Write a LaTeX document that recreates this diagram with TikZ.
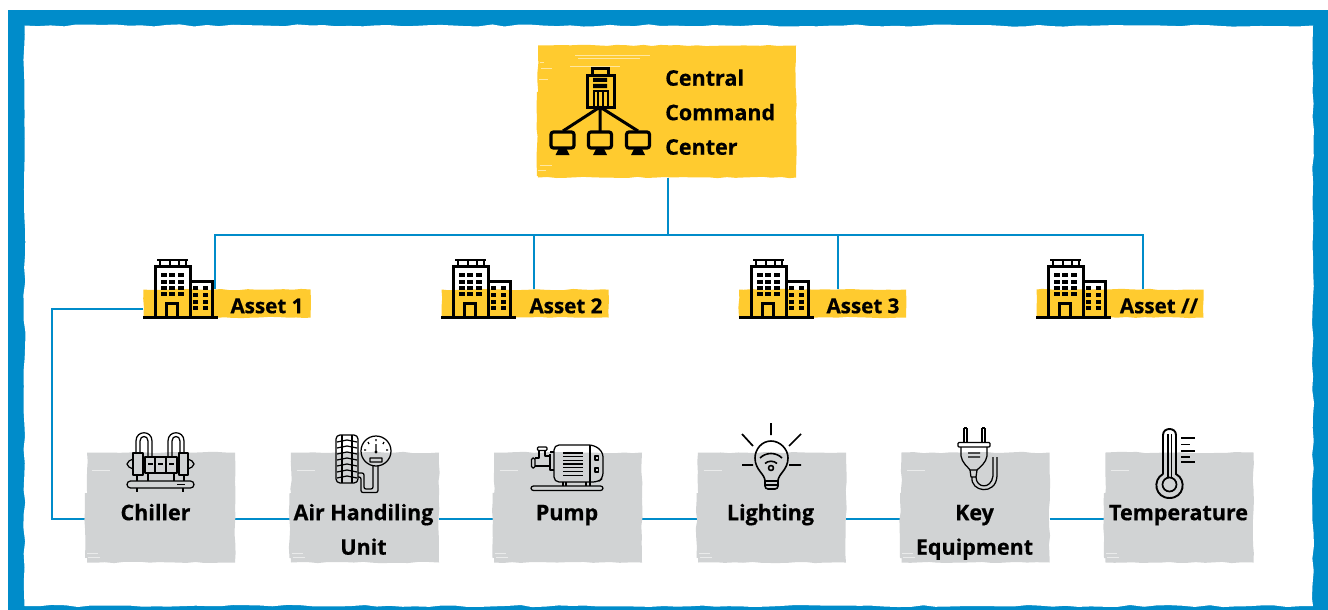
\documentclass[tikz,border=0pt]{standalone}
\usepackage{fontspec}
\setmainfont{Open Sans}[BoldFeatures={FakeBold=0.5}]
\usetikzlibrary{decorations.pathmorphing}
\definecolor{bluec}{HTML}{008CCA}
\definecolor{yellowc}{HTML}{FFCB2F}
\definecolor{greyc}{HTML}{D1D3D4}
\pgfdeclarelayer{framelayer}
\pgfdeclarelayer{connlayer}
\pgfsetlayers{framelayer,connlayer,main}
\newcommand{\lab}[4]{\node[lbl,#1] at (#2,#3-21) {\rule{0pt}{21pt}#4};}
\tikzset{
  rough/.style={decorate,decoration={random steps,segment length=9pt,amplitude=.7pt}},
  lbl/.style={anchor=north,inner sep=0pt,align=center,font=\fontsize{21.5}{34.5}\selectfont\bfseries,text=black},
  assetlbl/.style={font=\fontsize{20.6}{30}\selectfont\bfseries},
  cmdbox/.style={fill=yellowc,rough,inner sep=0pt,minimum width=258pt,minimum height=132pt},
  bandbox/.style={fill=yellowc,rough,inner sep=0pt,minimum width=167pt,minimum height=28pt},
  greybox/.style={fill=greyc,rough,inner sep=0pt,minimum width=148pt,minimum height=110pt},
  conn/.style={draw=bluec,line width=1.9pt},
  icon/.style={draw=black,line width=1.25pt,line join=round},
  iconb/.style={draw=black,line width=3pt,line join=miter},
  scratch/.style={draw=white,line width=.5pt,opacity=.55},
  pics/bldg/.style={code={
    \draw[iconb] (143,317.5) -- (218,317.5);
    \draw[iconb] (155,317) -- (155,266) -- (190,266) -- (190,317);
    \draw[iconb] (190,281.5) -- (212,281.5) -- (212,317);
    \draw[draw=black,line width=2.6pt] (157,260) -- (188,260);
    \draw[draw=black,line width=1.8pt] (160,260) -- (160,266) (170,260) -- (170,266) (179,260) -- (179,266) (186,260) -- (186,266);
    \draw[iconb] (166,317) -- (166,303) -- (177.5,303) -- (177.5,317);
    \foreach \yy in {275,282,288,294}{\foreach \xx in {161,169,178}{\fill (\xx,\yy-1.6) rectangle (\xx+5.5,\yy+1.6);}}
    \foreach \yy in {288,295,302,308}{\foreach \xx in {193,202.5}{\fill (\xx,\yy-1.6) rectangle (\xx+5,\yy+1.6);}}
  }},
  pics/mon/.style={code={
    \draw[draw=black,line width=3.2pt,rounded corners=2.5pt] (551.5,132) rectangle (574.5,148);
    \fill (559,149) -- (567,149) -- (569,153) -- (570,155) -- (556,155) -- (557,153) -- cycle;
  }}
}
\begin{document}
\begin{tikzpicture}[x=1pt,y=-1pt]
\pgfmathsetseed{42}
\useasboundingbox (0,0) rectangle (1328,610);
\begin{pgfonlayer}{framelayer}
  \fill[white] (0,0) rectangle (1328,610);
  \fill[bluec] (8,10) rectangle (1328,610);
  \fill[white,decorate,decoration={random steps,segment length=13pt,amplitude=1.1pt}] (24.5,25.5) -- (1313,25.5) -- (1313,606) -- (24.5,606) -- cycle;
\end{pgfonlayer}

% command centre
\node[cmdbox] (cc) at (667,111.5) {};
\fill[yellowc,rough] (537,92) rectangle (560,176);
\foreach \a/\b/\c in {540/544/62,541/552/68,539/548/79,538/546/170,540/552/165,575/650/55,578/640/58,570/620/66}
  \draw[scratch] (\a,\c) -- (\b,\c);
\lab{anchor=north west}{665}{85.5}{\parbox[t]{120pt}{\raggedright\rule{0pt}{0pt}Central\\Command\\Center}}

% central icon
\draw[draw=black,line width=2.6pt] (592.5,75) -- (592.5,68.5) -- (608.5,68.5) -- (608.5,75);
\draw[iconb] (587.5,75.5) rectangle (614,107);
\fill (593,78) rectangle (607,82) (593,84) rectangle (607,88);
\draw[draw=black,line width=2pt] (593.5,107) -- (593.5,90.5) -- (607.5,90.5) -- (607.5,107) (598,91) -- (598,107) (603,91) -- (603,107);
\draw[iconb] (600,107) -- (563,131) (600,107) -- (600,131) (600,107) -- (638,131);
\pic at (-0.5,0) {mon};
\pic at (37,0) {mon};
\pic at (75,0) {mon};

% assets
\node[bandbox] (a1) at (227,303.5) {};
\node[bandbox] (a2) at (525,303.5) {};
\node[bandbox] (a3) at (822.5,303.5) {};
\node[bandbox] (a4) at (1120,303.5) {};
\pic at (0,0) {bldg};
\pic at (298,0) {bldg};
\pic at (596,0) {bldg};
\pic at (893,0) {bldg};
\lab{assetlbl}{267}{313}{Asset 1}
\lab{assetlbl}{566}{313}{Asset 2}
\lab{assetlbl}{863}{313}{Asset 3}
\lab{assetlbl}{1159}{313}{Asset //}

% equipment boxes
\node[greybox] (b1) at (161,507.5) {};
\node[greybox] (b2) at (365,507.5) {};
\node[greybox] (b3) at (568,507.5) {};
\node[greybox] (b4) at (772,507.5) {};
\node[greybox] (b5) at (975.5,507.5) {};
\node[greybox] (b6) at (1179.5,507.5) {};
\foreach \s in {0,204.5,407.5,611.5,815,1019}{
  \fill[greyc,rough,xshift=\s pt] (85,493) rectangle (100,558);
  \draw[scratch,xshift=\s pt] (87,553) -- (98,553) (88,557) -- (100,557) (92,470) -- (110,470);
}
\lab{}{155.5}{520}{Chiller}
\lab{}{363.5}{520}{Air Handiling\\Unit}
\lab{}{567}{520}{Pump}
\lab{}{770.5}{520}{Lighting}
\lab{}{974.5}{520}{Key\\Equipment}
\lab{}{1178.5}{520}{Temperature}

% chiller icon
\draw[icon] (136,453) -- (136,441) .. controls (136,430) and (152,430) .. (152,441) -- (152,457)
            (140,453) -- (140,441) .. controls (140,435) and (148,435) .. (148,441) -- (148,457)
            (168,457) -- (168,441) .. controls (168,430) and (184,430) .. (184,441) -- (184,453)
            (172,457) -- (172,441) .. controls (172,435) and (180,435) .. (180,441) -- (180,453);
\draw[icon] (133,453) rectangle (143,475) (179,453) rectangle (188,475) (145,457) rectangle (177,473) (155,457) -- (155,473) (166,457) -- (166,473);
\draw[icon] (148,464) -- (153,464) (158,464) -- (163,464) (169,464) -- (174,464) (137,475) -- (137,481) (184,475) -- (184,481) (148,473) -- (148,481) (174,473) -- (174,481);
\draw[icon] (133,459) -- (129,461) -- (127,464) -- (129,467) -- (133,469) (188,459) -- (192,461) -- (194,464) -- (192,467) -- (188,469);
\draw[icon,rounded corners=3.5pt] (127,481) rectangle (194,488);
\draw[icon] (137,488) -- (137,492) (183,488) -- (183,492) (177,484.5) -- (185,484.5);

% gauge icon
\draw[icon,rounded corners=4pt] (336,435) rectangle (358,483);
\draw[icon] (342,435) -- (342,483) (352,435) -- (352,483);
\foreach \yy in {440,446,...,476}{\draw[icon] (337,\yy+2) -- (347,\yy) -- (357,\yy+2);}
\draw[icon] (376,451) circle[radius=15pt];
\draw[icon] (370,458) rectangle (382,462) (376,444) -- (376,451) (376,439) -- (376,441) (368,442) -- (369,444) (384,442) -- (383,444) (364,450) -- (366,450) (386,450) -- (388,450);
\fill (376,452) circle[radius=1.6pt];
\draw[icon,rounded corners=2pt] (358,473) -- (364,473) -- (364,489) -- (373,489) -- (373,466);
\draw[icon,rounded corners=2pt] (358,477) -- (361,477) -- (361,492.5) -- (378,492.5) -- (378,466);

% pump icon
\draw[icon,rounded corners=2.5pt] (531,486) rectangle (603,490.5);
\draw[icon,rounded corners=5pt] (554,445) -- (594,445) -- (603,452) -- (603,478) -- (598,482) -- (554,482) -- cycle;
\draw[icon] (590,445) -- (590,482) (563,482) -- (563,486) (566,482) -- (566,486) (586,482) -- (586,486) (590,482) -- (590,486);
\foreach \yy in {453,456.7,...,476}{\draw[icon] (563,\yy) -- (583,\yy);}
\draw[icon] (595,456) rectangle (598.5,460) (595,468) rectangle (598.5,472);
\draw[icon,rounded corners=1pt] (537.5,447) rectangle (547,450.5);
\draw[icon] (539,450.5) -- (539,458) -- (535,458) (545,450.5) -- (545,456) -- (550,456) (535,466) -- (550,466) (550,454) -- (550,470) -- (554,470) (550,452) -- (554,452);
\draw[icon,rounded corners=1.5pt] (535,458) -- (531.5,458) -- (531.5,468) -- (535,468) -- cycle;

% lighting icon
\draw[draw=black,line width=1.7pt] (771,423) -- (771,435) (742,434) -- (753,446) (801,434) -- (789,446) (742,465) -- (753,465) (789,465) -- (801,465);
\draw[icon,line width=1.6pt] (765,481) .. controls (765,474) and (755,470) .. (755,458) .. controls (755,449) and (762,441) .. (771,441) .. controls (780,441) and (788,449) .. (788,458) .. controls (788,470) and (778,474) .. (778,481) -- cycle;
\draw[icon,line width=1.6pt,rounded corners=3pt] (765,481) -- (765,489) -- (778,489) -- (778,481);
\draw[icon,line width=1.6pt] (765,485) -- (778,485);
\draw[icon,line width=1.6pt] (760,458) .. controls (766,452) and (776,452) .. (782,458) (765,463.5) .. controls (768,460.5) and (774,460.5) .. (777,463.5);
\draw[icon,line width=1.6pt] (771,468) circle[radius=2.5pt];

% plug icon
\draw[icon] (964,428) -- (964,442) (967,428) -- (967,442) (964,428) -- (967,428) (982,428) -- (982,442) (985,428) -- (985,442) (982,428) -- (985,428);
\draw[icon,rounded corners=1pt] (958,442.5) rectangle (990,447);
\draw[icon] (961,447) -- (961,456) .. controls (962,463) and (968,467) .. (970,470) -- (977,470) .. controls (980,467) and (986,463) .. (987,456) -- (987,447);
\draw[icon] (968,453) -- (980,453) (968,457) -- (980,457) (970,470) -- (971,477) -- (976,477) -- (977,470);
\draw[icon] (972,477) .. controls (970,492) and (996,496) .. (997,476) -- (997,457) (976,477) .. controls (976,488) and (991,490) .. (993,476) -- (993,457);

% thermometer icon
\draw[draw=black,line width=1.9pt] (1163,474) -- (1163,435) .. controls (1163,427) and (1176,427) .. (1176,435) -- (1176,474) .. controls (1187,480) and (1184,498) .. (1169.5,498) .. controls (1155,498) and (1152,480) .. (1163,474);
\draw[draw=black,line width=1.7pt] (1169.5,484.5) circle[radius=7pt];
\draw[draw=black,line width=1.5pt] (1168,434) -- (1168,478) (1171.5,434) -- (1171.5,478);
\draw[draw=black,line width=1.9pt] (1181,438) -- (1195,438) (1181,444.5) -- (1190,444.5) (1181,451) -- (1195,451) (1181,457) -- (1190,457) (1181,462) -- (1195,462);

% connectors
\begin{pgfonlayer}{connlayer}
  \coordinate (bus) at (668,235);
  \coordinate (lft) at (52,519);
  \draw[conn] (cc.south) ++(1pt,0pt) -- (bus);
  \draw[conn] ([xshift=-12pt]a1.north) |- (bus);
  \draw[conn] ([xshift=9pt]a2.north) |- (bus);
  \draw[conn] ([xshift=15.5pt]a3.north) |- (bus);
  \draw[conn] ([xshift=23pt]a4.north) |- (bus);
  \draw[conn] ([yshift=-5.5pt]a1.west) -| (lft) -- ([yshift=-11.5pt]b1.west);
  \draw[conn] ([yshift=-11.5pt]b1.east) -- ([yshift=-11.5pt]b2.west);
  \draw[conn] ([yshift=-11.5pt]b2.east) -- ([yshift=-11.5pt]b3.west);
  \draw[conn] ([yshift=-11.5pt]b3.east) -- ([yshift=-11.5pt]b4.west);
  \draw[conn] ([yshift=-11.5pt]b4.east) -- ([yshift=-11.5pt]b5.west);
  \draw[conn] ([yshift=-11.5pt]b5.east) -- ([yshift=-11.5pt]b6.west);
\end{pgfonlayer}
\end{tikzpicture}
\end{document}
